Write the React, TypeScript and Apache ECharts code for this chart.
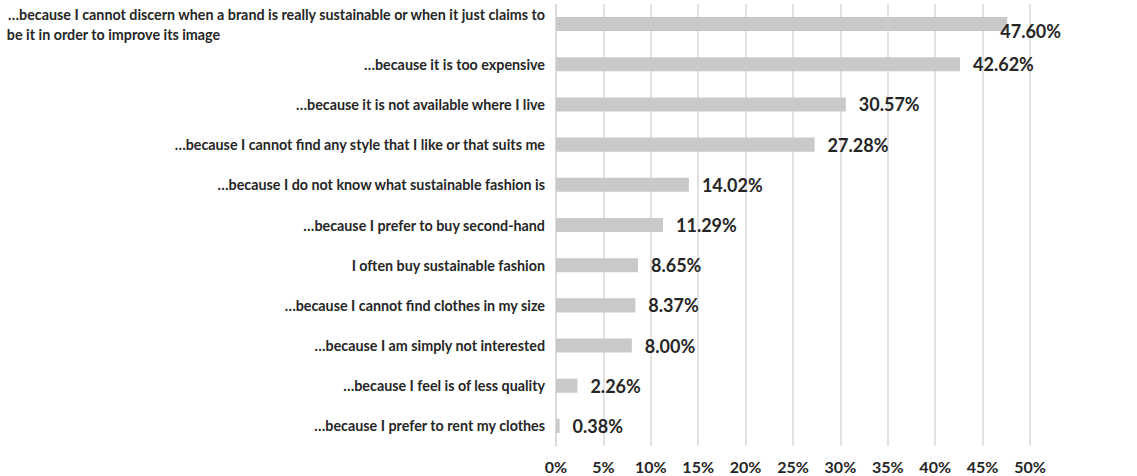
import React, { useEffect, useRef } from "react";
import * as echarts from "echarts";

const categories = [
  "…because I cannot discern when a brand is really sustainable or when it just claims to\nbe it in order to improve its image",
  "…because it is too expensive",
  "…because it is not available where I live",
  "…because I cannot find any style that I like or that suits me",
  "…because I do not know what sustainable fashion is",
  "…because I prefer to buy second-hand",
  "I often buy sustainable fashion",
  "…because I cannot find clothes in my size",
  "…because I am simply not interested",
  "…because I feel is of less quality",
  "…because I prefer to rent my clothes",
];
const values = [47.6, 42.62, 30.57, 27.28, 14.02, 11.29, 8.65, 8.37, 8.0, 2.26, 0.38];
const xTicks = { min: 0, max: 50, interval: 5 };

export default function App() {
  const ref = useRef<HTMLDivElement>(null);
  useEffect(() => {
    if (!ref.current) return;
    const chart = echarts.init(ref.current, undefined, { renderer: "svg" });
    const font = "Lato, 'Open Sans', sans-serif";
    const catSize = 14.3;
    chart.setOption({
      animation: false,
      grid: { left: 556, right: 107, top: 4, bottom: 30, containLabel: false },
      xAxis: {
        type: "value",
        min: xTicks.min,
        max: xTicks.max,
        interval: xTicks.interval,
        axisLine: { show: false },
        axisTick: { show: false },
        splitLine: { show: true, lineStyle: { color: "#d9d9d9", width: 1.5 } },
        axisLabel: {
          formatter: "{value}%",
          fontFamily: font,
          fontWeight: "bold",
          fontSize: 16,
          color: "#262626",
          margin: 12,
        },
      },
      yAxis: {
        type: "category",
        inverse: true,
        data: categories,
        axisLine: { show: true, lineStyle: { color: "#d9d9d9", width: 1.5 } },
        axisTick: { show: false },
        axisLabel: {
          fontFamily: font,
          fontWeight: "bold",
          fontSize: catSize,
          color: "#262626",
          margin: 11,
          align: "right",
          formatter: (v: string) => {
            const parts = v.split("\n");
            if (parts.length > 1) {
              return `{a|${parts[0]}}\n{b|${parts[1]}}`;
            }
            return v;
          },
          rich: {
            a: { fontFamily: font, fontWeight: "bold", fontSize: catSize, color: "#262626", align: "right", lineHeight: 20 },
            b: { fontFamily: font, fontWeight: "bold", fontSize: catSize, color: "#262626", align: "left", lineHeight: 20 },
          },
        },
      },
      series: [
        {
          type: "bar",
          data: values.map((v, i) =>
            i === 0
              ? { value: v, label: { offset: [-20, 7] } }
              : { value: v }
          ),
          barWidth: "35%",
          itemStyle: { color: "#c8c9ca" },
          label: {
            show: true,
            position: "right",
            distance: 13,
            formatter: (p: any) => `${p.value.toFixed(2)}%`,
            fontFamily: font,
            fontWeight: "bold",
            fontSize: 18,
            color: "#262626",
          },
        },
      ],
    });
    return () => chart.dispose();
  }, []);
  return <div ref={ref} style={{ width: 1137, height: 476, position: "absolute", left: 0, top: 0 }} />;
}
